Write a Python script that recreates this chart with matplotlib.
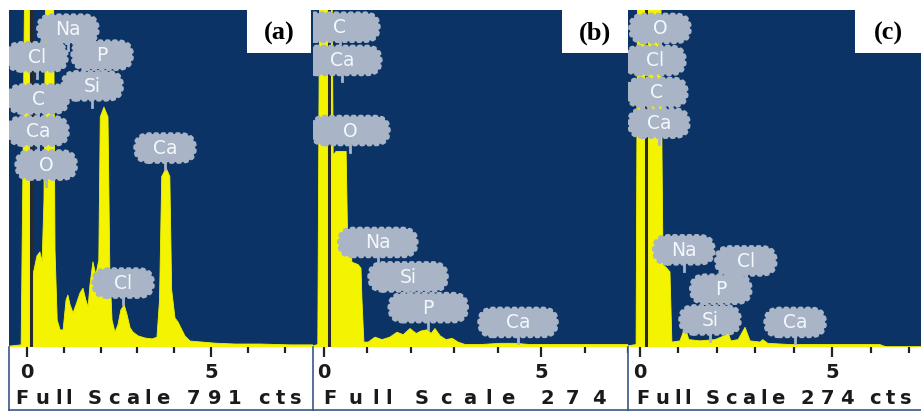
import matplotlib
matplotlib.use("Agg")
import matplotlib.pyplot as plt
import matplotlib.transforms as mtransforms
from matplotlib.patches import FancyBboxPatch, Rectangle
from matplotlib.lines import Line2D
from matplotlib.font_manager import FontProperties, findfont, get_font

# ---- spectra: energy (keV) and counts ----
energy_a = [-0.49, -0.16, -0.12, -0.05, 0.05, 0.12, 0.19, 0.27, 0.35, 0.41, 0.46, 0.52,
            0.71, 0.76, 0.82, 0.90, 0.98, 1.06, 1.11, 1.17, 1.25, 1.33, 1.44, 1.52,
            1.60, 1.66, 1.71, 1.79, 1.87, 1.95, 1.99, 2.09, 2.20, 2.25, 2.31, 2.39,
            2.47, 2.55, 2.64, 2.72, 2.80, 2.88, 3.02, 3.21, 3.40, 3.53, 3.60, 3.66,
            3.78, 3.88, 3.93, 4.02, 4.10, 4.18, 4.29, 4.43, 4.70, 5.11, 5.65, 6.33,
            7.15, 7.77]
counts_a = [2, 5, 345, 1000, 1000, 157, 181, 214, 223, 200, 345, 1000,
            1000, 228, 63, 40, 40, 110, 122, 99, 80, 99, 127, 138,
            110, 94, 146, 200, 169, 204, 540, 563, 540, 180, 63, 35,
            52, 87, 99, 75, 45, 35, 26, 21, 19, 23, 110, 400,
            420, 400, 134, 68, 59, 45, 26, 14, 12, 9, 7, 7,
            5, 5]

energy_b = [-0.25, -0.15, -0.10, 0.13, 0.17, 0.23, 0.44, 0.47, 0.53, 0.56, 0.69, 0.75,
            0.77, 0.81, 0.90, 1.04, 1.19, 1.35, 1.50, 1.63, 1.77, 1.90, 2.00, 2.13,
            2.21, 2.29, 2.40, 2.52, 2.65, 2.77, 2.92, 3.23, 3.65, 3.96, 4.27, 4.90,
            5.73, 6.31]
counts_b = [1, 2, 400, 400, 156, 159, 159, 90, 88, 69, 67, 64,
            38, 4, 4, 8, 6, 8, 12, 10, 15, 11, 13, 14,
            11, 15, 9, 6, 7, 4, 2, 2, 3, 3, 2, 2,
            2, 2]

energy_c = [-0.31, -0.10, -0.05, 0.52, 0.57, 0.60, 0.70, 0.78, 0.83, 1.04, 1.17, 1.27,
            1.56, 1.95, 2.18, 2.26, 2.36, 2.55, 2.73, 2.86, 3.12, 3.19, 3.32, 3.90,
            6.23, 6.40, 7.30]
counts_c = [1, 2, 400, 400, 168, 67, 64, 61, 4, 5, 16, 6,
            5, 6, 9, 15, 5, 6, 16, 5, 4, 6, 3, 2,
            2, 0, 0]

full_scale = [791, 274, 274]
scale_labels = ["Full Scale 791 cts", "Full Scale 274", "Full Scale 274 cts"]
panel_names = ["(a)", "(b)", "(c)"]

# element tags: label, energy, height in counts
tags_a = ["Na", "Cl", "P", "Si", "C", "Ca", "O", "Ca", "Cl"]
tag_x_a = [1.11, 0.27, 2.04, 1.77, 0.30, 0.30, 0.52, 3.75, 2.61]
tag_y_a = [746, 681, 685, 613, 582, 507, 427, 467, 150]

tags_b = ["C", "Ca", "O", "Na", "Si", "P", "Ca"]
tag_x_b = [0.31, 0.35, 0.52, 1.10, 1.73, 2.15, 4.02]
tag_y_b = [260, 233, 176, 85, 57, 32, 20]

tags_c = ["O", "Cl", "C", "Ca", "Na", "Cl", "P", "Si", "Ca"]
tag_x_c = [0.52, 0.39, 0.44, 0.49, 1.14, 2.75, 2.10, 1.82, 4.03]
tag_y_c = [259, 233, 207, 182, 79, 70, 47, 22, 20]

W, H, DPI = 921, 412, 100
BLUE = "#0b3366"
YELLOW = "#f4f400"
TAG = "#a9b4c6"
FONT = "DejaVu Sans"

fig = plt.figure(figsize=(W / DPI, H / DPI), dpi=DPI)
fig.patch.set_facecolor("white")


def fig_rect(x0, x1, y_top, y_bottom):
    return [x0 / W, (H - y_bottom) / H, (x1 - x0) / W, (y_bottom - y_top) / H]


def stretched_text(ax, s, x_start, x_end, y_px, size):
    # the instrument font is drawn very wide: spread the glyphs so that
    # the whole string spans x_start..x_end (figure pixels)
    fp = FontProperties(family=FONT, weight="bold")
    font = get_font(findfont(fp))
    font.set_size(size, 72)
    adv = [font.load_char(ord(ch)).linearHoriAdvance / 65536 for ch in s]
    k = (x_end - x_start) / sum(adv)
    pos = 0.0
    for ch, a in zip(s, adv):
        if ch != " ":
            cx = x_start + k * (pos + a / 2)
            ax.text(cx / W, (H - y_px) / H, ch, transform=fig.transFigure,
                    ha="center", va="center", fontproperties=fp, fontsize=size,
                    color="#1a1a1a", clip_on=True)
        pos += a


def draw_tag(ax, label, x, y, w_px):
    tr = fig.dpi_scale_trans + mtransforms.ScaledTranslation(x, y, ax.transData)
    w, h = w_px / DPI, 28 / DPI
    box = FancyBboxPatch((-w / 2, -h / 2), w, h,
                         boxstyle="round,pad=0,rounding_size=%.3f" % (h / 2),
                         transform=tr, fc=TAG, ec=TAG, lw=2.6,
                         ls=(0, (0.6, 1.4)), capstyle="round", zorder=4)
    ax.add_patch(box)
    stem = Line2D([0, 0], [-h / 2, -h / 2 - 0.07], transform=tr, color=TAG, lw=2, zorder=4)
    ax.add_line(stem)
    ax.text(0, -0.005, label, transform=tr, ha="center", va="center", color="#f4f7fb",
            fontsize=13.5, family=FONT, zorder=5, clip_on=True)


panels = [
    dict(x0=9, x1=313, xlim=(-0.49, 7.77), e=energy_a, c=counts_a, tags=tags_a,
         tx=tag_x_a, ty=tag_y_a, tag_w=60, zero=0.11, fs_text=(12, 305), box=(247, 311)),
    dict(x0=313, x1=628, xlim=(-0.25, 6.31), e=energy_b, c=counts_b, tags=tags_b,
         tx=tag_x_b, ty=tag_y_b, tag_w=78, zero=0.08, fs_text=(317, 612), box=(562, 628)),
    dict(x0=628, x1=921, xlim=(-0.31, 7.30), e=energy_c, c=counts_c, tags=tags_c,
         tx=tag_x_c, ty=tag_y_c, tag_w=60, zero=0.16, fs_text=(633, 914), box=(855, 921)),
]

for i, p in enumerate(panels):
    ax = fig.add_axes(fig_rect(p["x0"], p["x1"], 10, 347))
    ax.set_facecolor(BLUE)
    ax.set_xlim(*p["xlim"])
    ax.set_ylim(0, full_scale[i])
    ax.set_xticks([])
    ax.set_yticks([])
    for s in ax.spines.values():
        s.set_visible(False)

    ax.fill_between(p["e"], 0, p["c"], color=YELLOW, lw=0.6, ec=YELLOW, zorder=2)
    ax.axvline(p["zero"], color="#2a2a2a", lw=2.2, zorder=3)

    for lab, x, y in zip(p["tags"], p["tx"], p["ty"]):
        draw_tag(ax, lab, x, y, p["tag_w"])

    # white panel letter box
    bx0, bx1 = p["box"]
    ax.add_patch(Rectangle((bx0 / W, (H - 53) / H), (bx1 - bx0) / W, 43 / H,
                           transform=fig.transFigure, fc="white", ec="none", zorder=6,
                           clip_on=False))
    ax.text((bx0 + bx1) / 2 / W, (H - 33) / H, panel_names[i], transform=fig.transFigure,
            ha="center", va="center", fontsize=19, fontweight="bold",
            family="Liberation Serif", color="black", zorder=7)

    # white strip with the energy scale and full scale readout
    sx = fig.add_axes(fig_rect(p["x0"], p["x1"], 347, 410))
    sx.set_facecolor("white")
    sx.set_xlim(*p["xlim"])
    sx.set_ylim(0, 1)
    sx.set_yticks([])
    sx.xaxis.tick_top()
    sx.set_xticks([0, 5])
    sx.set_xticks([1, 2, 3, 4, 6, 7], minor=True)
    sx.tick_params(axis="x", which="major", direction="in", length=7, width=1.6,
                   color="#222222", labeltop=False, labelbottom=False)
    sx.tick_params(axis="x", which="minor", direction="in", length=4, width=1.6,
                   color="#222222")
    for side in ["top", "right"]:
        sx.spines[side].set_visible(False)
    for side in ["left", "bottom"]:
        sx.spines[side].set_color("#3b5787")
        sx.spines[side].set_linewidth(1.2)

    for t in [0, 5]:
        sx.text(t, 0.60, str(t), ha="center", va="center", fontsize=14,
                fontweight="bold", family=FONT, color="#1a1a1a", clip_on=True)

    fx0, fx1 = p["fs_text"]
    stretched_text(sx, scale_labels[i], fx0, fx1, 398, 14)

fig.savefig("out.png", dpi=DPI)
